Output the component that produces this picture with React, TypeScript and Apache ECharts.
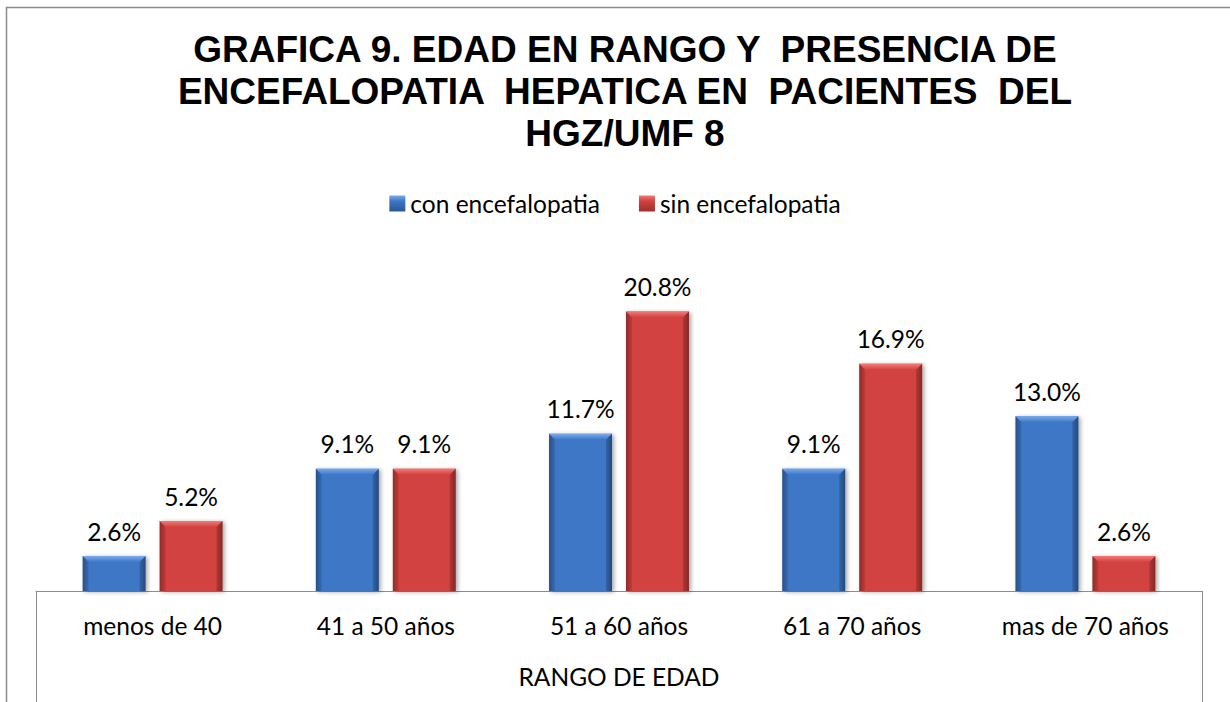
import React, { useEffect, useRef } from "react";
import * as echarts from "echarts";

const categories = ["menos de 40", "41 a 50 años", "51 a 60 años", "61 a 70 años", "mas de 70 años"];
const conEncefalopatia = [2.6, 9.1, 11.7, 9.1, 13.0];
const sinEncefalopatia = [5.2, 9.1, 20.8, 16.9, 2.6];
const seriesNames = ["con encefalopatia", "sin encefalopatia"];
const titleText = "GRAFICA 9. EDAD EN RANGO Y  PRESENCIA DE\nENCEFALOPATIA  HEPATICA EN  PACIENTES  DEL\nHGZ/UMF 8";
const axisName = "RANGO DE EDAD";

const palette = [
  { main: "#3d77c5", light: "#7aacec", dark: "#2a5796" },
  { main: "#d1423f", light: "#f27a77", dark: "#9e2f2d" },
];

const FONT = "Lato, 'Open Sans', sans-serif";
const FS = 24.5;

function makeRender(sIdx: number) {
  return (params: any, api: any) => {
    const i = api.value(0);
    const v = api.value(1);
    const base = api.coord([i, 0]);
    const top = api.coord([i, v]);
    const band = api.size([1, 0])[0];
    const bw = band * 0.27;
    const gap = band * 0.06;
    const x0 = base[0] + (sIdx === 0 ? -(gap / 2 + bw) : gap / 2);
    const y0 = top[1];
    const y1 = base[1];
    const h = y1 - y0;
    const b = Math.min(6, h / 2);
    const c = palette[sIdx];
    return {
      type: "group",
      children: [
        {
          type: "rect",
          shape: { x: x0, y: y0, width: bw, height: h },
          style: {
            fill: new echarts.graphic.LinearGradient(0, 0, 1, 0, [
              { offset: 0, color: c.dark },
              { offset: 0.1, color: c.main },
              { offset: 0.9, color: c.main },
              { offset: 1, color: c.dark },
            ]),
            shadowBlur: 4,
            shadowColor: "rgba(0,0,0,0.35)",
            shadowOffsetX: 2,
            shadowOffsetY: 1,
          },
        },
        {
          type: "polygon",
          shape: { points: [[x0, y0], [x0 + bw, y0], [x0 + bw - b, y0 + b], [x0 + b, y0 + b]] },
          style: {
            fill: new echarts.graphic.LinearGradient(0, 0, 0, 1, [
              { offset: 0, color: c.light },
              { offset: 1, color: c.main },
            ]),
          },
        },
        {
          type: "polygon",
          shape: { points: [[x0, y0], [x0 + b, y0 + b], [x0 + b, y1], [x0, y1]] },
          style: { fill: "rgba(0,0,0,0.08)" },
        },
        {
          type: "polygon",
          shape: { points: [[x0 + bw, y0], [x0 + bw - b, y0 + b], [x0 + bw - b, y1], [x0 + bw, y1]] },
          style: { fill: "rgba(0,0,0,0.15)" },
        },
        {
          type: "text",
          style: {
            text: v.toFixed(1) + "%",
            x: x0 + bw / 2,
            y: y0 - 25,
            align: "center",
            verticalAlign: "middle",
            fontSize: FS,
            fontFamily: FONT,
            fill: "#000",
          },
        },
      ],
    };
  };
}

export default function App() {
  const ref = useRef<HTMLDivElement>(null);
  useEffect(() => {
    if (!ref.current) return;
    const chart = echarts.init(ref.current, undefined, { renderer: "svg" });
    const seriesData = [conEncefalopatia, sinEncefalopatia];
    chart.setOption({
      animation: false,
      backgroundColor: "#fff",
      title: {
        text: titleText,
        left: 620,
        textAlign: "center",
        top: 23,
        textStyle: {
          fontFamily: "'Liberation Sans', Arial, sans-serif",
          fontWeight: "bold",
          fontSize: 37,
          lineHeight: 42,
          color: "#000",
        },
      },
      legend: {
        top: 186,
        left: "center",
        itemWidth: 16,
        itemHeight: 16,
        itemGap: 39,
        icon: "rect",
        textStyle: { fontFamily: FONT, fontSize: FS, color: "#000" },
        data: seriesNames.map((n, k) => ({
          name: n,
          itemStyle: {
            color: new echarts.graphic.LinearGradient(0, 0, 0, 1, [
              { offset: 0, color: palette[k].light },
              { offset: 0.35, color: palette[k].main },
              { offset: 1, color: palette[k].dark },
            ]),
          },
        })),
      },
      grid: { left: 36, right: 28, top: 255, bottom: 111 },
      xAxis: {
        type: "category",
        data: categories,
        axisLine: { show: true, lineStyle: { color: "#8c8c8c", width: 1 } },
        axisTick: { show: false },
        axisLabel: { margin: 22, fontFamily: FONT, fontSize: FS, color: "#000" },
        name: axisName,
        nameLocation: "middle",
        nameGap: 73,
        nameTextStyle: { fontFamily: FONT, fontSize: FS, color: "#000" },
      },
      yAxis: { type: "value", min: 0, max: 25, show: false, splitLine: { show: false } },
      series: seriesNames.map((n, k) => ({
        name: n,
        type: "custom",
        itemStyle: { color: palette[k].main },
        renderItem: makeRender(k),
        encode: { x: 0, y: 1 },
        data: seriesData[k].map((v, i) => [i, v]),
        clip: false,
      })),
      graphic: [
        {
          type: "rect",
          shape: { x: 6.5, y: 7.5, width: 1260, height: 760 },
          style: { fill: "none", stroke: "#8c8c8c", lineWidth: 1.5 },
          silent: true,
        },
        {
          type: "line",
          shape: { x1: 36.5, y1: 591, x2: 36.5, y2: 702 },
          style: { stroke: "#8c8c8c", lineWidth: 1 },
        },
        {
          type: "line",
          shape: { x1: 1202.5, y1: 591, x2: 1202.5, y2: 702 },
          style: { stroke: "#8c8c8c", lineWidth: 1 },
        },
      ],
    });
    return () => chart.dispose();
  }, []);
  return (
    <div
      ref={ref}
      style={{ position: "absolute", left: 0, top: 0, width: 1230, height: 702 }}
    />
  );
}
